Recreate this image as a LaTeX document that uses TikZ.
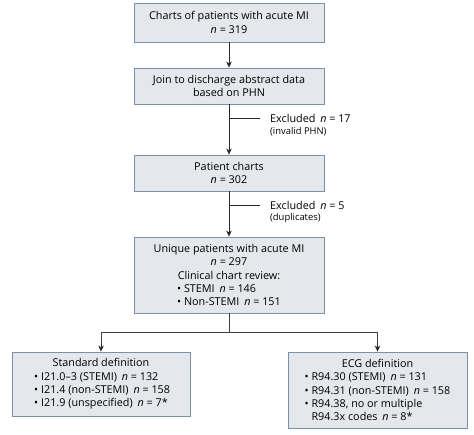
\documentclass[tikz,border=0pt]{standalone}
\usepackage{fontspec}
\setmainfont{Open Sans}
\usetikzlibrary{arrows.meta}
\definecolor{boxfill}{HTML}{E4E7EB}
\definecolor{boxline}{HTML}{7C91A8}
\newcommand{\nn}{\textit{n}}
\newcommand{\gap}{\hspace{0.45em}}
\newlength{\bwid}
\newcommand{\setbw}[1]{\settowidth{\bwid}{#1}\global\bwid=\bwid}
\newcommand{\bline}[1]{\makebox[\bwid][l]{#1}}
\begin{document}
\begin{tikzpicture}[x=1pt,y=-1pt,
  box/.style={draw=boxline, fill=boxfill, line width=0.9pt, inner sep=0pt, align=center,
    font=\fontsize{10.8}{13.4}\selectfont},
  arr/.style={-{Stealth[length=6pt,width=5.5pt]}, line width=0.6pt, black!85},
  ln/.style={line width=0.6pt, black!85},
  branch/.style={line width=1pt, black!75},
  excl/.style={anchor=west, inner sep=0pt, font=\fontsize{10.8}{12}\selectfont},
  exclsub/.style={anchor=west, inner sep=0pt, font=\fontsize{9.4}{11}\selectfont}]
\useasboundingbox (0,0) rectangle (474,434);

\node[box, minimum width=190, minimum height=39] (b1) at (229,22.5)
  {Charts of patients with acute MI\\\nn{} = 319};
\node[box, minimum width=190, minimum height=36] (b2) at (229,86)
  {Join to discharge abstract data\\based on PHN};
\node[box, minimum width=190, minimum height=36] (b3) at (229,173)
  {Patient charts\\\nn{} = 302};
\node[box, minimum width=190, minimum height=76] (b4) at (229,275)
  {\setbw{• Non-STEMI\gap\nn{} = 151}Unique patients with acute MI\\\nn{} = 297\\Clinical chart review:\\
   \bline{• STEMI\gap\nn{} = 146}\\\bline{• Non-STEMI\gap\nn{} = 151}};
\node[box, minimum width=178, minimum height=64] (b5) at (101,384)
  {\setbw{• I21.9 (unspecified)\gap\nn{} = 7*}Standard definition\\
   \bline{• I21.0–3 (STEMI)\gap\nn{} = 132}\\\bline{• I21.4 (non-STEMI)\gap\nn{} = 158}\\\bline{• I21.9 (unspecified)\gap\nn{} = 7*}};
\node[box, minimum width=179, minimum height=76] (b6) at (377.5,390)
  {\setbw{• R94.31 (non-STEMI)\gap\nn{} = 158}ECG definition\\
   \bline{• R94.30 (STEMI)\gap\nn{} = 131}\\\bline{• R94.31 (non-STEMI)\gap\nn{} = 158}\\\bline{• R94.38, no or multiple}\\\bline{\phantom{• }R94.3x codes\gap\nn{} = 8*}};

\draw[arr] (b1.south) -- (b2.north);
\draw[arr] (b2.south) -- (b3.north);
\draw[arr] (b3.south) -- (b4.north);

\coordinate (e1) at (229,118);
\node[excl] (x1) at (270,118) {Excluded\gap\nn{} = 17};
\node[exclsub] (x1s) at (270,132) {(invalid PHN)};
\draw[ln] (e1) -- ([xshift=-10pt]x1.west);

\coordinate (e2) at (229,205);
\node[excl] (x2) at (270,205) {Excluded\gap\nn{} = 5};
\node[exclsub] (x2s) at (270,218) {(duplicates)};
\draw[ln] (e2) -- ([xshift=-10pt]x2.west);

\coordinate (j) at (229,332);
\draw[branch] (b4.south) -- (j);
\draw[branch] (j) -| ([yshift=8pt]b5.north);
\draw[branch] (j) -| ([yshift=8pt]b6.north);
\draw[arr] ([yshift=9pt]b5.north) -- (b5.north);
\draw[arr] ([yshift=9pt]b6.north) -- (b6.north);
\end{tikzpicture}
\end{document}
